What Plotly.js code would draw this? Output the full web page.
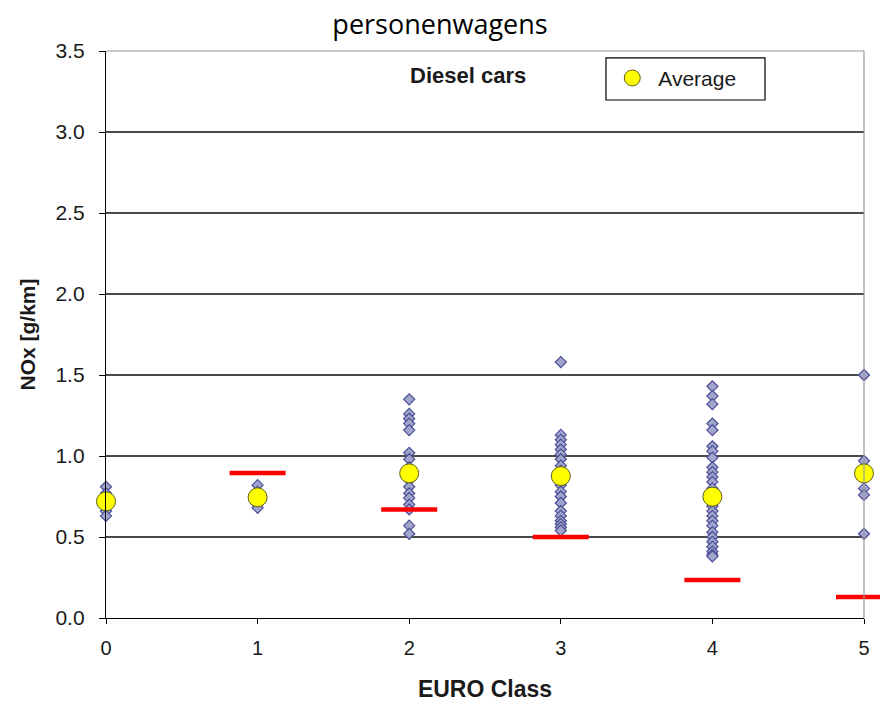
<!DOCTYPE html>
<html>
<head>
<meta charset="utf-8">
<script src="https://cdn.plot.ly/plotly-3.0.1.min.js"></script>
<style>html,body{margin:0;padding:0;background:#fff;}#chart{width:880px;height:705px;}</style>
</head>
<body>
<div id="chart"></div>
<script>
// ---- data ----
const euroClasses = [0, 1, 2, 3, 4, 5];
const tickLabels = ["0", "1", "2", "3", "4", "5"];

const nox0 = [0.81, 0.77, 0.70, 0.66, 0.63];
const nox1 = [0.82, 0.78, 0.73, 0.70, 0.68];
const nox2 = [1.35, 1.26, 1.23, 1.20, 1.16, 1.02, 0.98, 0.93, 0.89, 0.85, 0.81, 0.77, 0.74, 0.70, 0.67, 0.57, 0.52];
const nox3 = [1.58, 1.13, 1.10, 1.07, 1.04, 1.01, 0.98, 0.94, 0.91, 0.88, 0.85, 0.82, 0.78, 0.75, 0.71, 0.66, 0.63, 0.60, 0.58, 0.56, 0.54];
const nox4 = [1.43, 1.37, 1.32, 1.20, 1.16, 1.06, 1.03, 0.99, 0.93, 0.90, 0.87, 0.84, 0.80, 0.77, 0.72, 0.69, 0.66, 0.63, 0.60, 0.57, 0.53, 0.50, 0.47, 0.44, 0.41, 0.39, 0.38];
const nox5 = [1.50, 0.97, 0.92, 0.80, 0.76, 0.52];

const averages = [0.72, 0.745, 0.893, 0.876, 0.749, 0.893];
const limitClasses = [1, 2, 3, 4, 5];
const limits = [0.895, 0.67, 0.50, 0.235, 0.13];

const chartTitle = "personenwagens";
const xTitle = "EURO Class";
const yTitle = "NOx [g/km]";
const noteText = "Diesel cars";
const avgName = "Average";

// ---- build traces ----
const perClass = [nox0, nox1, nox2, nox3, nox4, nox5];
const measX = [], measY = [];
perClass.forEach((arr, i) => arr.forEach(v => { measX.push(euroClasses[i]); measY.push(v); }));

const fam = "Liberation Sans, Arial, sans-serif";

const traces = [
  {
    type: "scatter", mode: "markers", x: measX, y: measY, showlegend: false,
    cliponaxis: false, hoverinfo: "x+y",
    marker: {symbol: "diamond", size: 8.5, color: "#a2a5cb", line: {color: "#4a4e98", width: 1.2}}
  },
  {
    type: "scatter", mode: "markers", x: limitClasses, y: limits, showlegend: false,
    cliponaxis: false, hoverinfo: "x+y",
    marker: {symbol: "line-ew", size: 40, color: "#ff0000", line: {color: "#ff0000", width: 4.5}}
  },
  {
    type: "scatter", mode: "markers", x: euroClasses, y: averages, name: avgName,
    cliponaxis: false,
    marker: {symbol: "circle", size: 19, color: "#ffff00", line: {color: "#5e5e1e", width: 1}}
  }
];

const layout = {
  width: 880, height: 705,
  margin: {l: 106, r: 16, t: 51, b: 87},
  paper_bgcolor: "#ffffff", plot_bgcolor: "#ffffff",
  title: {text: chartTitle, x: 0.5, xanchor: "center", y: 0.965, yanchor: "middle",
          font: {family: "Open Sans, Noto Sans, sans-serif", size: 27, color: "#000"}},
  showlegend: true,
  legend: {x: 0.66, xanchor: "left", y: 0.988, yanchor: "top",
           borderwidth: 0, bgcolor: "rgba(0,0,0,0)",
           font: {family: fam, size: 21, color: "#1a1a1a"},
           itemwidth: 42, tracegroupgap: 0},
  xaxis: {
    range: [0, 5], tickmode: "array", tickvals: euroClasses, ticktext: tickLabels,
    showgrid: false, zeroline: false, showline: true, linecolor: "#000", linewidth: 1.2,
    ticks: "outside", ticklen: 5, tickcolor: "#000",
    tickfont: {family: fam, size: 20, color: "#1a1a1a"}, ticklabelstandoff: 7,
    title: {text: "<b>" + xTitle + "</b>", standoff: 22,
            font: {family: fam, size: 23, color: "#1a1a1a"}}
  },
  yaxis: {
    range: [0, 3.5], dtick: 0.5, tickformat: ".1f",
    showgrid: true, gridcolor: "#4a4a4a", gridwidth: 1.2,
    zeroline: false, showline: true, linecolor: "#000", linewidth: 1.2,
    ticks: "outside", ticklen: 6, tickcolor: "#000",
    tickfont: {family: fam, size: 21, color: "#1a1a1a"}, ticklabelstandoff: 10,
    title: {text: "<b>" + yTitle + "</b>", standoff: 14,
            font: {family: fam, size: 21, color: "#1a1a1a"}}
  },
  shapes: [
    {type: "line", xref: "paper", yref: "paper", x0: 0, x1: 1, y0: 1, y1: 1, line: {color: "#9a9a9a", width: 1.2}},
    {type: "line", xref: "paper", yref: "paper", x0: 1, x1: 1, y0: 0, y1: 1, line: {color: "#9a9a9a", width: 1.2}},
    {type: "rect", xref: "paper", yref: "paper", x0: 0.6596, x1: 0.8694, y0: 0.9136, y1: 0.9877,
     fillcolor: "#ffffff", line: {color: "#000", width: 1.2}}
  ],
  annotations: [
    {text: "<b>" + noteText + "</b>", xref: "paper", yref: "paper", x: 0.478, y: 0.956,
     xanchor: "center", yanchor: "middle", showarrow: false,
     font: {family: fam, size: 22, color: "#1a1a1a"}}
  ]
};

Plotly.newPlot("chart", traces, layout, {displayModeBar: false, staticPlot: true});
</script>
</body>
</html>
